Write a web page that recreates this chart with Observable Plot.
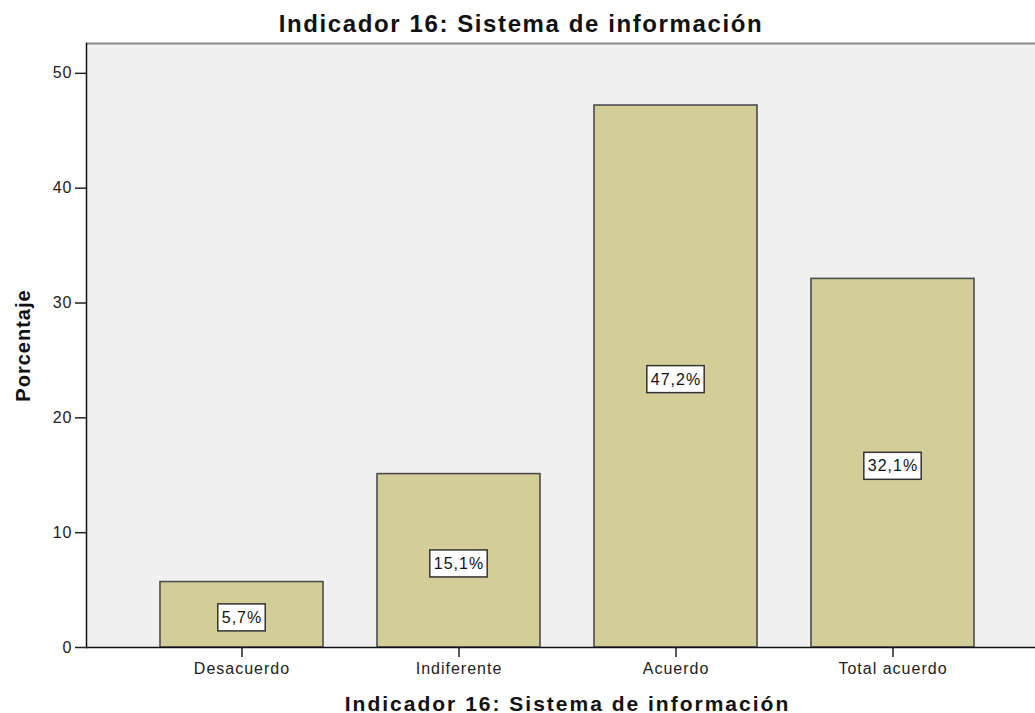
<!DOCTYPE html>
<html>
<head>
<meta charset="utf-8">
<script src="https://cdn.jsdelivr.net/npm/d3@7"></script>
<script src="https://cdn.jsdelivr.net/npm/@observablehq/plot@0.6"></script>
<style>
  body { margin: 0; background: #fff; font-family: "Liberation Sans", Arial, sans-serif; }
  #title { position: relative; width: 1035px; height: 42px; }
  #title span { position: absolute; left: 521px; top: 12px; transform: translateX(-50%);
    font-size: 24px; line-height: 24px; font-weight: bold; letter-spacing: 1.6px; color: #111; white-space: nowrap; }
  #chart svg g[font-size="16"] { letter-spacing: 1px; }
  #chart svg g[font-size="20"] { letter-spacing: 1px; }
  #chart svg g[font-size="21"] { letter-spacing: 2px; }
</style>
</head>
<body>
<div id="title"><span></span></div>
<div id="chart"></div>
<script>
const chartTitle = "Indicador 16: Sistema de información";
const xTitle = "Indicador 16: Sistema de información";
const yTitle = "Porcentaje";
const categories = ["Desacuerdo", "Indiferente", "Acuerdo", "Total acuerdo"];
const percentages = [5.7, 15.1, 47.2, 32.1];
const yTicks = [0, 10, 20, 30, 40, 50];
const yMax = 52.6;

const data = categories.map((c, i) => ({ category: c, value: percentages[i] }));
const fmt = v => v.toFixed(1).replace(".", ",") + "%";

document.querySelector("#title span").textContent = chartTitle;

const plot = Plot.plot({
  width: 1035,
  height: 671,
  marginTop: 1,
  marginBottom: 66,
  marginLeft: 86,
  marginRight: 0,
  style: { fontFamily: '"Liberation Sans", Arial, sans-serif', fontSize: "16px", color: "#222", background: "transparent", overflow: "visible" },
  x: { type: "band", domain: categories, range: [86, 1048], paddingInner: 0.25, paddingOuter: 0.341, align: 0.5 },
  y: { domain: [0, yMax] },
  marks: [
    Plot.frame({ fill: "#f0f0f0", stroke: null }),
    Plot.ruleY([yMax], { stroke: "#8a8a8a", strokeWidth: 2 }),
    Plot.barY(data, { x: "category", y: "value", fill: "#d3ce98", stroke: "#4d4d4d", strokeWidth: 1.6 }),
    Plot.text(data, { x: "category", y: d => d.value / 2, text: d => fmt(d.value), fontSize: 16, dy: 3, fill: "#111" }),
    Plot.ruleY([0], { stroke: "#111", strokeWidth: 1.5 }),
    Plot.frame({ anchor: "left", stroke: "#111", strokeWidth: 1.5 }),
    Plot.axisY(yTicks, { tickSize: 11, tickPadding: 3, label: null, fontSize: 16, stroke: "#222", strokeWidth: 1.5, fill: "#222" }),
    Plot.axisX({ tickSize: 10, tickPadding: 5, label: null, fontSize: 16, stroke: "#222", strokeWidth: 1.5, fill: "#222" }),
    Plot.text([yTitle], { frameAnchor: "left", textAnchor: "middle", rotate: -90, dx: -63, fontSize: 20, fontWeight: "bold", fill: "#111" }),
    Plot.text([xTitle], { frameAnchor: "bottom", textAnchor: "middle", lineAnchor: "bottom", dx: 6.5, dy: 63, fontSize: 21, fontWeight: "bold", fill: "#111" })
  ]
});

document.getElementById("chart").append(plot);

// white label boxes behind the percentage labels
plot.querySelectorAll("text").forEach(t => {
  if (!/%$/.test(t.textContent)) return;
  const bb = t.getBBox();
  const r = document.createElementNS("http://www.w3.org/2000/svg", "rect");
  const cy = bb.y + bb.height / 2;
  r.setAttribute("x", bb.x - 4);
  r.setAttribute("y", cy - 13.5);
  r.setAttribute("width", bb.width + 7);
  r.setAttribute("height", 27);
  r.setAttribute("fill", "#fff");
  r.setAttribute("stroke", "#333");
  r.setAttribute("stroke-width", 1.5);
  const tr = t.getAttribute("transform");
  if (tr) r.setAttribute("transform", tr);
  t.parentNode.insertBefore(r, t);
});
</script>
</body>
</html>
